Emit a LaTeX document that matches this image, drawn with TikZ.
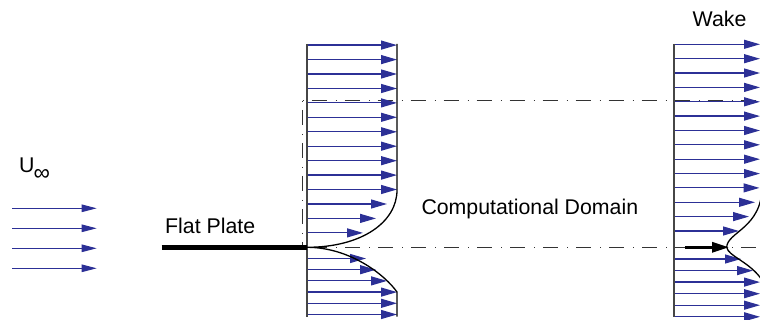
\documentclass[tikz,border=0pt]{standalone}
\usepackage{fontspec}
\setmainfont{Liberation Sans}
\usetikzlibrary{arrows.meta}
\definecolor{flowblue}{RGB}{44,48,150}
\definecolor{wallgray}{RGB}{70,70,70}
\begin{document}
\begin{tikzpicture}[x=1pt,y=-1pt,
  vel/.style={draw=flowblue, line width=1.2pt, -{Triangle[length=16pt,width=9pt]}},
  inflow/.style={draw=flowblue, line width=1pt, -{Triangle[length=15pt,width=7.5pt]}},
  wall/.style={draw=wallgray, line width=1.5pt},
  profile/.style={draw=black, line width=1.3pt},
  domline/.style={draw=black!80, line width=1pt, dash pattern=on 1pt off 8pt on 15pt off 9pt},
  txt/.style={inner sep=0pt, anchor=base west, font=\fontsize{21.3}{25}\selectfont}]
\useasboundingbox (0,0) rectangle (760,320);
\clip (0,0) rectangle (760,320);

% free stream
\foreach \y [count=\i] in {208.3,228.3,248.3,268.3}{
  \coordinate (in\i a) at (12.3,\y);
  \coordinate (in\i b) at (96.7,\y);
  \draw[inflow] (in\i a) -- (in\i b);
}
\node[txt] (uinf) at (19,172.3) {U};
\node[inner sep=0pt, font=\fontsize{23}{24}\selectfont] (uinfsub) at (41.8,174.5) {∞};

% computational domain outline
\coordinate (dTL) at (302.7,101);
\coordinate (dTR) at (762,101);
\coordinate (dBL) at (302.7,247.3);
\coordinate (dPL) at (307,247.3);
\coordinate (dBR) at (762,247.3);
\draw[domline] (dTL) -- (dTR);
\draw[domline] (dTL) -- (dBL);
\draw[domline, dash phase=4pt] (dPL) -- (dBR);

% boundary layer profile at the trailing edge
\foreach \y/\t [count=\i] in {232.9/363,218.4/376,204.0/387,189.5/397,175.1/397,160.7/397,146.2/397,131.8/397,117.3/397,102.9/397,88.5/397,74.0/397,59.6/397,45.1/397,
  258.5/366,269.7/376,280.9/387,292.1/397,303.3/397,314.5/397}{
  \coordinate (bl\i a) at (307,\y);
  \coordinate (bl\i b) at (\t,\y);
  \draw[vel] (bl\i a) -- (bl\i b);
}
\coordinate (blTop) at (307,44);
\coordinate (blBot) at (307,317);
\coordinate (blO) at (307,247.3);
\coordinate (blEdgeTop) at (397,44);
\coordinate (blEdgeU) at (397,190);
\coordinate (blEdgeL) at (397,292);
\coordinate (blEdgeBot) at (397,316.5);
\draw[wall] (blTop) -- (blBot);
\draw[profile] (blEdgeTop) -- (blEdgeU) .. controls (397,222) and (362,247.3) .. (blO)
  .. controls (350,247.3) and (385,275) .. (blEdgeL) -- (blEdgeBot);

% flat plate
\coordinate (plA) at (161.7,247.3);
\draw[line width=5pt] (plA) -- (blO);
\node[txt] (plate) at (165,233.3) {Flat Plate};
\node[txt] (cdom) at (421.3,215) {Computational Domain};

% wake profile
\foreach \y/\t [count=\i] in {231/739,216.6/749,202.3/755,187.9/759.5,173.6/760,159.2/760,144.8/760,130.5/760,116.1/760,101.8/760,87.4/760,73/760,58.7/760,44.3/760,
  259/741,270.6/753,282.1/760,293.7/760,305.2/760,316.8/760}{
  \coordinate (wk\i a) at (674,\y);
  \coordinate (wk\i b) at (\t,\y);
  \draw[vel] (wk\i a) -- (wk\i b);
}
\coordinate (wkTop) at (674,44);
\coordinate (wkBot) at (674,317);
\draw[wall] (wkTop) -- (wkBot);
\coordinate (wkC) at (726.7,247.3);
\draw[profile] (762,170) -- (762,186.7) .. controls (762,228) and (727,232) .. (wkC)
  .. controls (728,256) and (750,262) .. (762,280) -- (765,290);
\coordinate (wkArA) at (685,247.3);
\coordinate (wkArB) at (729,247.3);
\draw[line width=3pt, -{Triangle[length=17pt,width=10pt]}] (wkArA) -- (wkArB);
\node[txt] (wake) at (692.5,26.7) {Wake};
\end{tikzpicture}
\end{document}
